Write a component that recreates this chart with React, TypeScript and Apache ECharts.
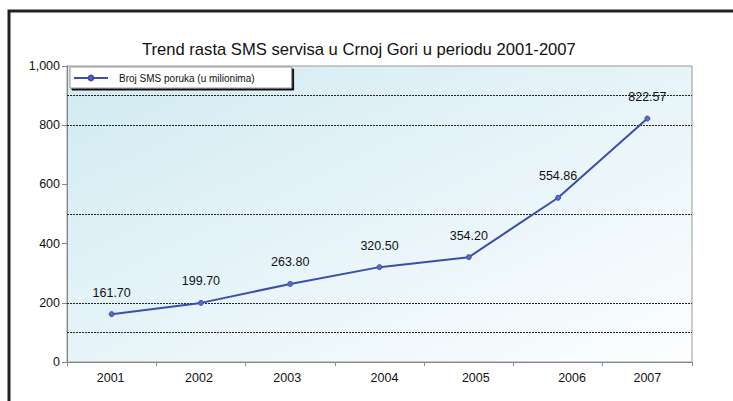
import React, { useEffect, useRef } from "react";
import * as echarts from "echarts";

const title = "Trend rasta SMS servisa u Crnoj Gori u periodu 2001-2007";
const seriesName = "Broj SMS poruka (u milionima)";
const years = ["2001", "2002", "2003", "2004", "2005", "2006", "2007"];
const smsValues = [161.7, 199.7, 263.8, 320.5, 354.2, 554.86, 822.57];
const gridLineValues = [100, 200, 500, 800, 900];
const yMin = 0;
const yMax = 1000;
const yInterval = 200;

// small horizontal shifts of the year labels seen in the reference
const labelShift: Record<string, number> = { "2001": -1, "2002": -2, "2003": -3, "2004": 5, "2005": 7, "2006": 14, "2007": 0 };

export default function App() {
  const ref = useRef<HTMLDivElement>(null);
  useEffect(() => {
    document.body.style.margin = "0";
    const chart = echarts.init(ref.current!, undefined, { renderer: "svg" });
    const font = "'Liberation Sans', Arial, sans-serif";
    const rich: Record<string, any> = {};
    years.forEach((y) => {
      const s = labelShift[y] || 0;
      rich["y" + y] = {
        fontSize: 12.5,
        color: "#111",
        fontFamily: font,
        padding: s >= 0 ? [0, 0, 0, 2 * s] : [0, -2 * s, 0, 0],
      };
    });
    chart.setOption({
      animation: false,
      backgroundColor: "#ffffff",
      textStyle: { fontFamily: font },
      title: {
        text: title,
        left: 142,
        top: 41,
        padding: 0,
        textStyle: { fontSize: 16.6, fontWeight: "normal", color: "#111", fontFamily: font },
      },
      legend: {
        left: 70,
        top: 67,
        padding: [6, 37, 5, 3],
        itemWidth: 34,
        itemHeight: 6,
        itemGap: 0,
        backgroundColor: "#ffffff",
        borderColor: "#999",
        borderWidth: 1,
        shadowColor: "#111",
        shadowBlur: 0,
        shadowOffsetX: 2,
        shadowOffsetY: 2,
        textStyle: { fontSize: 10, color: "#111", fontFamily: font, padding: [0, 0, 0, 6] },
        data: [{ name: seriesName }],
      },
      grid: {
        left: 67,
        right: 41,
        top: 66,
        bottom: 39,
        show: true,
        borderColor: "#999",
        borderWidth: 1,
        backgroundColor: new echarts.graphic.LinearGradient(0, 0, 1, 1, [
          { offset: 0, color: "#d1eaf2" },
          { offset: 1, color: "#fcfeff" },
        ]),
      },
      xAxis: {
        type: "category",
        data: years,
        boundaryGap: true,
        axisLine: { show: true, lineStyle: { color: "#888", width: 1 } },
        axisTick: { show: true, length: 4, interval: 0, lineStyle: { color: "#888" } },
        axisLabel: {
          interval: 0,
          hideOverlap: false,
          fontSize: 12.5,
          color: "#111",
          margin: 9,
          fontFamily: font,
          formatter: (v: string) => "{y" + v + "|" + v + "}",
          rich,
        },
        splitLine: { show: false },
      },
      yAxis: {
        type: "value",
        min: yMin,
        max: yMax,
        interval: yInterval,
        axisLine: { show: true, lineStyle: { color: "#888", width: 1 } },
        axisTick: { show: true, length: 5, lineStyle: { color: "#888" } },
        axisLabel: {
          fontSize: 12.5,
          color: "#111",
          margin: 7,
          fontFamily: font,
          formatter: (v: number) => v.toLocaleString("en-US"),
        },
        splitLine: { show: false },
      },
      graphic: [
        {
          type: "polyline",
          silent: true,
          shape: { points: [[9, 401], [9, 11], [733, 11]] },
          style: { stroke: "#222", lineWidth: 3, fill: "none" },
          z: 100,
        },
      ],
      series: [
        {
          name: seriesName,
          type: "line",
          data: smsValues,
          symbol: "circle",
          symbolSize: 5,
          lineStyle: { color: "#3b4eae", width: 2 },
          itemStyle: { color: "#5a6cc8", borderColor: "#3b4eae", borderWidth: 1 },
          label: {
            show: true,
            position: "top",
            distance: 12,
            fontSize: 12.5,
            color: "#111",
            fontFamily: font,
            formatter: (p: any) => Number(p.value).toFixed(2),
          },
          markLine: {
            silent: true,
            symbol: "none",
            label: { show: false },
            lineStyle: { color: "#222", type: [2, 1], width: 1 },
            data: gridLineValues.map((v) => ({ yAxis: v })),
            z: 1,
          },
          z: 5,
        },
      ],
    });
    return () => chart.dispose();
  }, []);
  return <div ref={ref} style={{ width: 733, height: 401 }} />;
}
